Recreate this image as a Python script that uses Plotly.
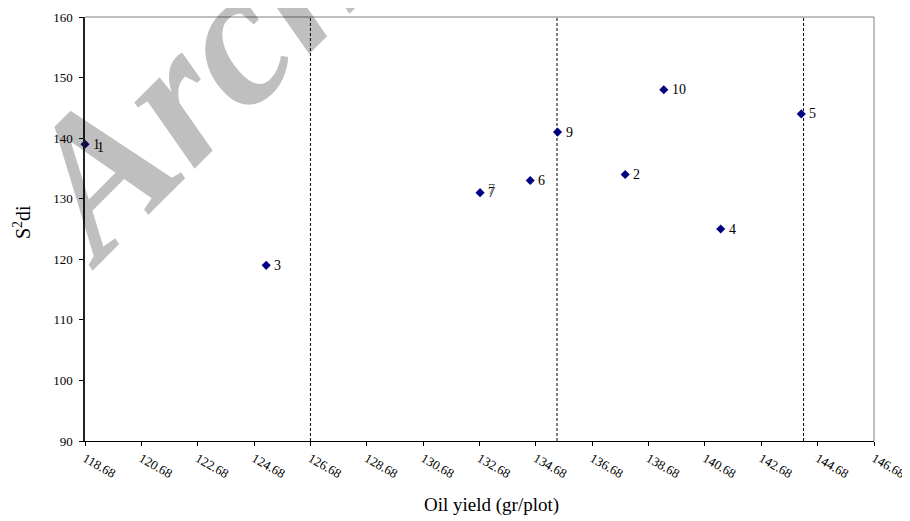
import plotly.graph_objects as go

# ---- data ----
genotype = ["1", "2", "3", "4", "5", "6", "7", "9", "10"]
oil_yield = [118.68, 137.85, 125.11, 141.24, 144.10, 134.48, 132.70, 135.45, 139.22]
s2di = [139, 134, 119, 125, 144, 133, 131, 141, 148]

# overlapping duplicate labels seen in the reference
dup_labels = ["1", "7"]
dup_x = [118.68, 132.70]
dup_y = [139, 131]

# reference (dashed) vertical lines
vline_x = [126.68, 135.43, 144.18]

x_ticks = [118.68 + 2 * i for i in range(15)]
x_tick_text = ["%.2f" % v for v in x_ticks]
y_ticks = [90, 100, 110, 120, 130, 140, 150, 160]

FONT = "Liberation Serif, Times New Roman, serif"

fig = go.Figure()

# dashed vertical lines
vx, vy = [], []
for v in vline_x:
    vx += [v, v, None]
    vy += [90, 160, None]
fig.add_trace(go.Scatter(x=vx, y=vy, mode="lines",
                         line=dict(color="black", width=1, dash="3px,2px"),
                         hoverinfo="skip", showlegend=False, cliponaxis=False))

fig.add_trace(go.Scatter(
    x=oil_yield, y=s2di, mode="markers",
    marker=dict(symbol="diamond", size=7, color="#000080"),
    showlegend=False, cliponaxis=False))

annotations = []
# point labels
for lab, xx, yy in zip(genotype, oil_yield, s2di):
    annotations.append(dict(x=xx, y=yy, xref="x", yref="y", text=lab, showarrow=False,
                            xanchor="left", yanchor="middle", xshift=6,
                            font=dict(family=FONT, size=14, color="black")))
# duplicate labels (offset like the reference)
shifts = [(10, -3), (6, 3)]
colors = ["black", "#666666"]
for lab, xx, yy, (sx, sy), c in zip(dup_labels, dup_x, dup_y, shifts, colors):
    annotations.append(dict(x=xx, y=yy, xref="x", yref="y", text=lab, showarrow=False,
                            xanchor="left", yanchor="middle", xshift=sx, yshift=sy,
                            font=dict(family=FONT, size=14, color=c)))

# watermark
annotations.append(dict(x=0.498, y=1.531, xref="paper", yref="paper",
                        text="Archive of SID", showarrow=False, textangle=-45,
                        xanchor="center", yanchor="middle",
                        font=dict(family=FONT, size=195, color="rgba(0,0,0,0.25)",
                                  weight="bold", style="italic")))

# axis titles
annotations.append(dict(x=0.5156, y=-0.151, xref="paper", yref="paper",
                        text="Oil yield (gr/plot)", showarrow=False,
                        xanchor="center", yanchor="middle",
                        font=dict(family=FONT, size=19, color="black")))
annotations.append(dict(x=-0.08, y=0.516, xref="paper", yref="paper",
                        text="S<sup>2</sup>di", showarrow=False, textangle=-90,
                        xanchor="center", yanchor="middle",
                        font=dict(family=FONT, size=20, color="black")))

# page body adds an 8px margin, so the figure is 8px smaller and shifted
fig.update_layout(
    width=902, height=513,
    margin=dict(l=77, r=36, t=9, b=80, autoexpand=False),
    paper_bgcolor="white", plot_bgcolor="white",
    font=dict(family=FONT, color="black"),
    annotations=annotations,
    shapes=[
        dict(type="line", xref="paper", yref="paper", x0=0, x1=1, y0=1, y1=1,
             line=dict(color="#808080", width=1)),
        dict(type="line", xref="paper", yref="paper", x0=1, x1=1, y0=0, y1=1,
             line=dict(color="#808080", width=1)),
    ],
)

fig.update_xaxes(range=[118.68, 146.68], tickvals=x_ticks, ticktext=x_tick_text,
                 tickangle=30, ticks="outside", ticklen=4, tickcolor="black",
                 showline=True, linecolor="black", linewidth=1,
                 showgrid=False, zeroline=False, automargin=False,
                 tickfont=dict(family=FONT, size=13, color="black"))
fig.update_yaxes(range=[90, 160], tickvals=y_ticks,
                 ticks="outside", ticklen=4, tickcolor="black",
                 showline=True, linecolor="#222222", linewidth=1.5,
                 showgrid=False, zeroline=False, ticklabelstandoff=4, automargin=False,
                 tickfont=dict(family=FONT, size=13, color="black"))

fig.write_html("out.html")
